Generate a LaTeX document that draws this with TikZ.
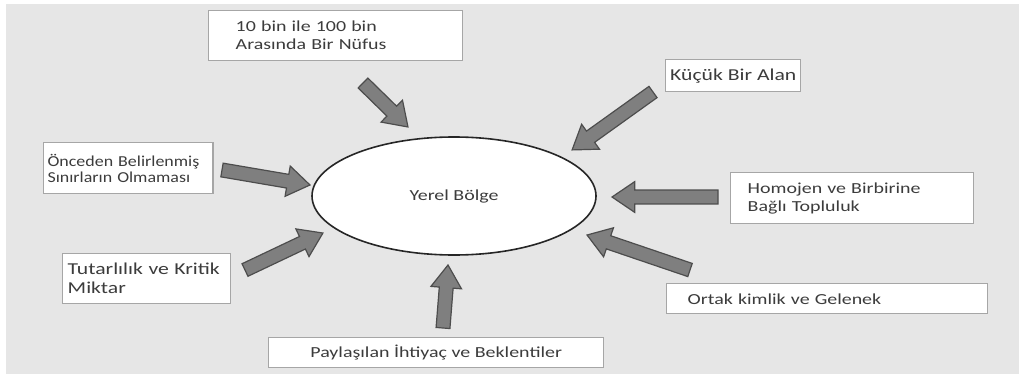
\documentclass[tikz,border=0pt]{standalone}
\usepackage{fontspec}
\setmainfont{Carlito}[FakeStretch=1.3]
\newfontfamily\narrowfont{Carlito}[FakeStretch=1.18]
\usetikzlibrary{calc,shapes.geometric}
\hyphenpenalty=10000
\exhyphenpenalty=10000
\definecolor{bggray}{HTML}{E6E6E6}
\definecolor{boxgray}{HTML}{A6A6A6}
\definecolor{txtgray}{HTML}{3C3C3C}
\definecolor{arrfill}{HTML}{7F7F7F}
\definecolor{arrdraw}{HTML}{4D4D4D}
\tikzset{
  box/.style={draw=boxgray, fill=white, line width=1.1pt, text=txtgray,
    font=\fontsize{11.5}{13.5}\selectfont, inner ysep=0pt, anchor=north west},
  arrowst/.style={draw=arrdraw, fill=arrfill, line width=0.9pt, line join=miter},
  locst/.style={ellipse, draw=black!85, fill=white, line width=1.2pt, text=txtgray,
    font=\fontsize{11.5}{13.5}\selectfont}
}
\newcommand\blockarr[2]{%
  \path let \p1=($(#2)-(#1)$), \n1={atan2(\y1,\x1)}, \n2={veclen(\x1,\y1)} in
    \pgfextra{\xdef\barang{\n1}\xdef\barlen{\n2}};
  \begin{scope}[shift={(#1)},rotate=\barang]
    \draw[arrowst] (0pt,-5.2pt) -- ({\barlen-17pt},-5.2pt) -- ({\barlen-17pt},-11.5pt)
      -- ({\barlen},0pt) -- ({\barlen-17pt},11.5pt) -- ({\barlen-17pt},5.2pt)
      -- (0pt,5.2pt) -- cycle;
  \end{scope}
}
\begin{document}
\begin{tikzpicture}[x=0.75pt,y=-0.75pt]
\useasboundingbox (0,0) rectangle (1019,374);
\fill[white] (0,0) rectangle (1019,374);
\fill[bggray] (6,4) rectangle (1019,374);

\node[locst, minimum width=213pt, minimum height=88.5pt] (loc) at (454,196) {Yerel Bölge};

\node[box, minimum width=190.5pt, minimum height=37.5pt, text width=150pt, inner xsep=20.25pt, align=left]
  (b1) at (208,10) {10 bin ile 100 bin\\Arasında Bir Nüfus};
\node[box, minimum width=101.25pt, minimum height=24pt, inner xsep=2pt, align=center,
  font=\fontsize{12.5}{14}\selectfont]
  (b2) at (665,59) {Küçük Bir Alan};
\node[box, minimum width=126.75pt, minimum height=38.25pt, text width=121pt, inner xsep=2.9pt, align=left,
  font=\narrowfont\fontsize{11.4}{11.8}\selectfont]
  (b3) at (43,142) {Önceden Belirlenmiş\\Sınırların Olmaması};
\node[box, minimum width=126pt, minimum height=37.5pt, text width=118.5pt, inner xsep=3.75pt, align=left,
  font=\fontsize{12.5}{14.3}\selectfont]
  (b4) at (62,253) {Tutarlılık ve Kritik\\Miktar};
\node[box, minimum width=182.25pt, minimum height=38.25pt, text width=156.75pt, inner xsep=12.75pt, align=left]
  (b5) at (730,172) {Homojen ve Birbirine\\Bağlı Topluluk};
\node[box, minimum width=240.75pt, minimum height=22.5pt, text width=209.25pt, inner xsep=15.75pt, align=left]
  (b6) at (666,283) {Ortak kimlik ve Gelenek};
\node[box, minimum width=251.25pt, minimum height=22.5pt, inner xsep=2pt, align=center]
  (b7) at (268,337) {Paylaşılan İhtiyaç ve Beklentiler};

\coordinate (a1t) at (363,83);  \coordinate (a1h) at (408,127);
\coordinate (a2t) at (653,92);  \coordinate (a2h) at (572,150);
\coordinate (a3t) at (222,170); \coordinate (a3h) at (310,185);
\coordinate (a4t) at (245,270); \coordinate (a4h) at (323,233);
\coordinate (a5t) at (718,197); \coordinate (a5h) at (612,197);
\coordinate (a6t) at (690,270); \coordinate (a6h) at (587,235);
\coordinate (a7t) at (443,328); \coordinate (a7h) at (448,265);
\blockarr{a1t}{a1h}
\blockarr{a2t}{a2h}
\blockarr{a3t}{a3h}
\blockarr{a4t}{a4h}
\blockarr{a5t}{a5h}
\blockarr{a6t}{a6h}
\blockarr{a7t}{a7h}
\end{tikzpicture}
\end{document}
